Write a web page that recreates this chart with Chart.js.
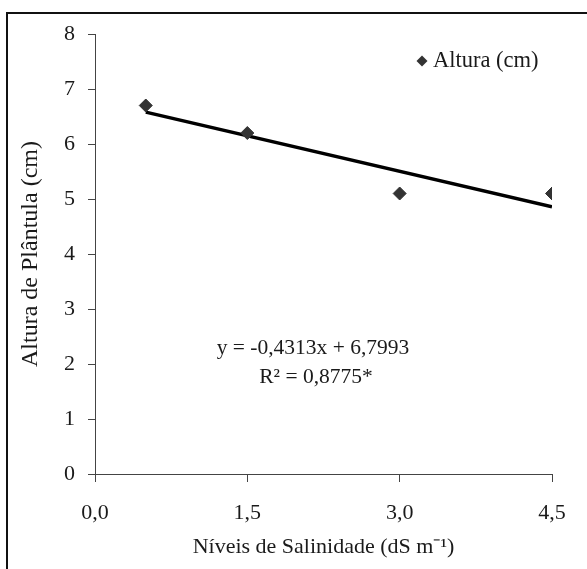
<!DOCTYPE html>
<html>
<head>
<meta charset="utf-8">
<script src="https://cdn.jsdelivr.net/npm/chart.js@4.4.1/dist/chart.umd.min.js"></script>
<style>
  html, body { margin: 0; padding: 0; background: #fff; }
  #wrap { position: relative; width: 587px; height: 569px; overflow: hidden; }
  #frame { position: absolute; left: 6px; top: 12px; width: 640px; height: 640px;
           border-left: 2px solid #111; border-top: 2px solid #111; }
  #c { position: absolute; left: 0; top: 0; }
</style>
</head>
<body>
<div id="wrap">
  <div id="frame"></div>
  <canvas id="c" width="587" height="569"></canvas>
</div>
<script>
// dados
const salinidade = [0.5, 1.5, 3.0, 4.5];
const altura = [6.7, 6.2, 5.1, 5.1];
// linha de tendência (extremos)
const trendX = [0.5, 4.5];
const trendY = [6.58, 4.86];
const equacao = ['y = -0,4313x + 6,7993', 'R² = 0,8775*'];
const legenda = 'Altura (cm)';

const SERIF = '"Liberation Serif", "Times New Roman", serif';
const INK = '#1a1a1a';

// legenda + equação desenhadas dentro da área do gráfico
const extras = {
  id: 'extras',
  afterDraw(chart) {
    const { ctx } = chart;
    ctx.save();
    ctx.textBaseline = 'middle';
    // legenda
    const lx = 422, ly = 61;
    ctx.fillStyle = '#333';
    ctx.beginPath();
    ctx.moveTo(lx - 5.5, ly); ctx.lineTo(lx, ly - 5.5); ctx.lineTo(lx + 5.5, ly); ctx.lineTo(lx, ly + 5.5);
    ctx.closePath(); ctx.fill();
    ctx.fillStyle = INK;
    ctx.font = '22.5px ' + SERIF;
    ctx.textAlign = 'left';
    ctx.fillText(legenda, 433, ly);
    // equação
    ctx.font = '21.5px ' + SERIF;
    ctx.textAlign = 'center';
    ctx.fillText(equacao[0], 313, 348);
    ctx.fillText(equacao[1], 316, 377);
    ctx.restore();
  }
};

new Chart(document.getElementById('c'), {
  type: 'scatter',
  data: {
    datasets: [
      {
        label: legenda,
        data: salinidade.map((v, i) => ({ x: v, y: altura[i] })),
        pointStyle: 'rectRot',
        pointRadius: 6.5,
        backgroundColor: '#333',
        borderColor: '#333',
        borderWidth: 1,
        order: 1
      },
      {
        label: 'Linear',
        type: 'line',
        data: trendX.map((v, i) => ({ x: v, y: trendY[i] })),
        borderColor: '#000',
        borderWidth: 3.5,
        pointRadius: 0,
        fill: false,
        order: 2
      }
    ]
  },
  options: {
    responsive: false,
    animation: false,
    devicePixelRatio: 1,
    layout: { padding: { left: 8, top: 34, right: 35, bottom: 0 } },
    plugins: { legend: { display: false }, tooltip: { enabled: false } },
    scales: {
      x: {
        type: 'linear',
        min: 0, max: 4.5,
        afterFit(s) { s.height = 95; },
        ticks: {
          stepSize: 1.5,
          padding: 18,
          color: INK,
          font: { family: SERIF, size: 22 },
          callback: v => v.toFixed(1).replace('.', ',')
        },
        grid: { drawOnChartArea: false, tickLength: 8, color: '#444' },
        border: { color: '#444', width: 1 },
        title: {
          display: true,
          text: 'Níveis de Salinidade (dS m⁻¹)',
          color: INK,
          font: { family: SERIF, size: 22 },
          padding: { top: 0, bottom: 9 }
        }
      },
      y: {
        min: 0, max: 8,
        afterFit(s) { s.width = 87; },
        ticks: {
          stepSize: 1,
          padding: 13,
          color: INK,
          font: { family: SERIF, size: 22 }
        },
        grid: { drawOnChartArea: false, tickLength: 7, color: '#444' },
        border: { color: '#444', width: 1 },
        title: {
          display: true,
          text: 'Altura de Plântula (cm)',
          color: INK,
          font: { family: SERIF, size: 24 },
          padding: { top: 8, bottom: 0 }
        }
      }
    }
  },
  plugins: [extras]
});
</script>
</body>
</html>
